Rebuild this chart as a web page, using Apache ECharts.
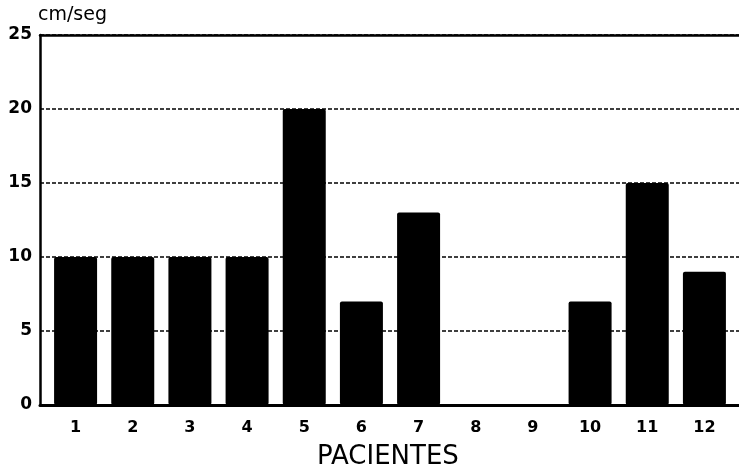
<!DOCTYPE html>
<html>
<head>
<meta charset="utf-8">
<script src="https://cdn.jsdelivr.net/npm/echarts@6/dist/echarts.min.js"></script>
<style>html,body{margin:0;padding:0;background:#fff}#c{width:739px;height:475px}</style>
</head>
<body>
<div id="c"></div>
<script>
const categories = ['1','2','3','4','5','6','7','8','9','10','11','12'];
const values = [10, 10, 10, 10, 20, 7, 13, 0, 0, 7, 15, 9];
const yTicks = [0, 5, 10, 15, 20, 25];
const yUnit = 'cm/seg';
const xTitle = 'PACIENTES';

const font = 'DejaVu Sans';
const chart = echarts.init(document.getElementById('c'), null, {renderer: 'canvas'});
chart.setOption({
  backgroundColor: '#fff',
  animation: false,
  graphic: [
    {type: 'text', left: 38, top: 6, style: {text: yUnit, font: '19px "DejaVu Sans"', fill: '#000'}},
    {type: 'text', left: 317, top: 444, style: {text: xTitle, font: '26px "DejaVu Sans"', fill: '#000'}}
  ],
  grid: [
    {left: 47, right: 6, top: 35, bottom: 70},
    {left: 40, right: 0, top: 35, bottom: 70}
  ],
  xAxis: [
    {
      type: 'category', gridIndex: 0, data: categories,
      axisLine: {show: false}, axisTick: {show: false},
      axisLabel: {color: '#000', fontFamily: font, fontWeight: 'bold', fontSize: 16, margin: 15}
    },
    {
      type: 'value', gridIndex: 1, min: 0, max: 1,
      axisLine: {show: true, lineStyle: {color: '#000', width: 3}},
      axisTick: {show: false}, axisLabel: {show: false}, splitLine: {show: false}
    },
    {
      type: 'value', gridIndex: 1, min: 0, max: 1, position: 'top',
      axisLine: {show: true, lineStyle: {color: '#000', width: 2.5}},
      axisTick: {show: false}, axisLabel: {show: false}, splitLine: {show: false}
    }
  ],
  yAxis: [
    {
      type: 'value', gridIndex: 0, min: 0, max: 25, interval: 5, show: false
    },
    {
      type: 'value', gridIndex: 1, min: yTicks[0], max: yTicks[yTicks.length - 1], interval: 5,
      axisLine: {show: true, lineStyle: {color: '#000', width: 2.5}},
      axisTick: {show: false},
      axisLabel: {color: '#000', fontFamily: font, fontWeight: 'bold', fontSize: 17, margin: 8, padding: [3, 0, 0, 0]},
      splitLine: {show: true, lineStyle: {color: '#000', width: 1.5, type: [4, 2]}}
    }
  ],
  series: [
    {
      type: 'bar', xAxisIndex: 0, yAxisIndex: 0, data: values,
      barWidth: 43,
      itemStyle: {color: '#000', borderRadius: 2},
      z: 5
    }
  ]
});
</script>
</body>
</html>
